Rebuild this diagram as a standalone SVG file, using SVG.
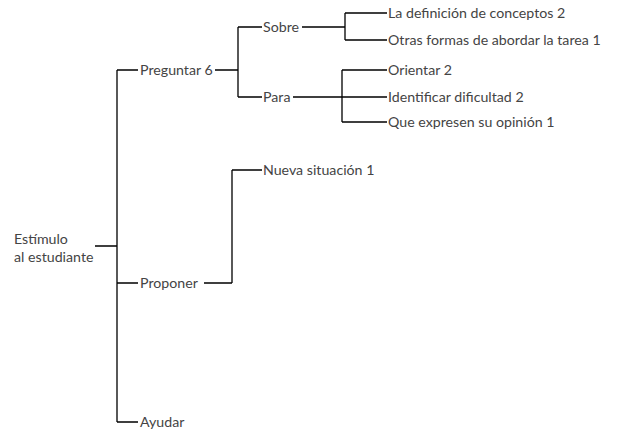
<svg xmlns="http://www.w3.org/2000/svg" width="620" height="434" viewBox="0 0 620 434">
<style>
text{font-family:Lato,"Open Sans","Liberation Sans",sans-serif;font-size:14.2px;fill:#444}
.c path{fill:none;stroke:#000;stroke-width:1.3}
</style>
<rect width="620" height="434" fill="#fff"/>
<g class="c" id="connectors">
<path d="M95,246H117M117,70V422M117,70H138M117,283H138M117,422H138"/>
<path d="M215,70H238M238,27V97M238,27H262M238,97H262"/>
<path d="M302,27H345M345,13V40M345,13H387M345,40H387"/>
<path d="M293,97H342M342,70V122M342,70H387M342,97H387M342,122H387"/>
<path d="M204,283H232M232,170V283M232,170H262"/>
</g>
<g id="root"><text x="14" y="243.5">Estímulo</text><text x="14" y="261.5">al estudiante</text></g>
<g id="preguntar"><text x="140" y="75">Preguntar 6</text></g>
<g id="sobre"><text x="263" y="32">Sobre</text></g>
<g id="para"><text x="263" y="102">Para</text></g>
<g id="def"><text x="388" y="18">La definición de conceptos 2</text></g>
<g id="otras"><text x="388" y="45">Otras formas de abordar la tarea 1</text></g>
<g id="orientar"><text x="388" y="75">Orientar 2</text></g>
<g id="identificar"><text x="388" y="102">Identificar dificultad 2</text></g>
<g id="que"><text x="388" y="127">Que expresen su opinión 1</text></g>
<g id="proponer"><text x="140" y="288">Proponer</text></g>
<g id="nueva"><text x="263" y="175">Nueva situación 1</text></g>
<g id="ayudar"><text x="140" y="427">Ayudar</text></g>
</svg>
